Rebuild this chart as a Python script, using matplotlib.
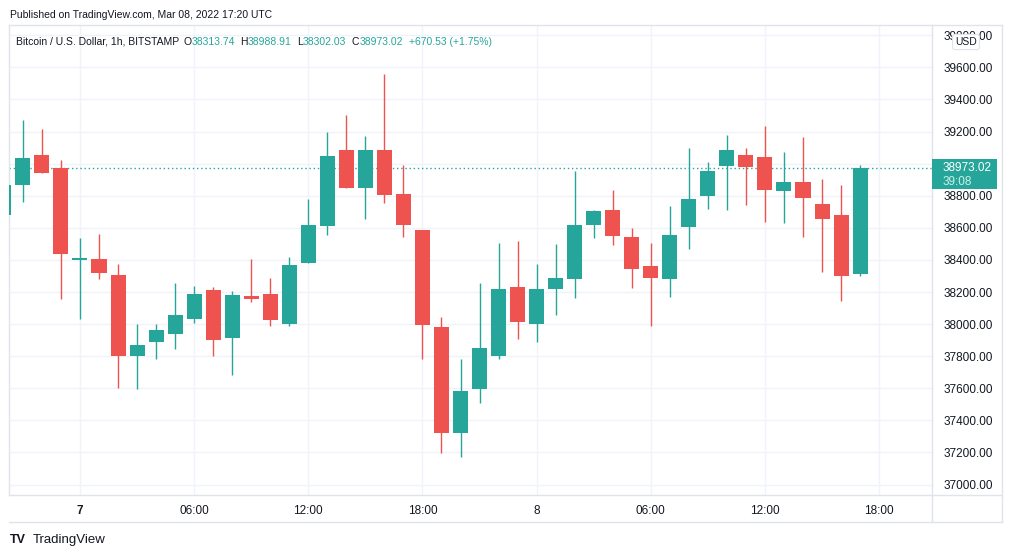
import matplotlib
matplotlib.use("Agg")
import matplotlib.pyplot as plt
from matplotlib.lines import Line2D
from matplotlib.patches import Rectangle
from matplotlib.transforms import blended_transform_factory
import numpy as np

# hours relative to Mar 7 00:00 UTC, one candle per hour
hours = list(range(-4, 42))
opens = [38680, 38867, 39054, 38975, 38400, 38406, 38306, 37804, 37891, 37941,
         38034, 38213, 37916, 38175, 38188, 38001, 38383, 38614, 39085, 38850,
         39085, 38811, 38587, 37984, 37324, 37598, 37804, 38231, 38003, 38219,
         38283, 38620, 38711, 38544, 38363, 38278, 38608, 38801, 38988, 39055,
         39042, 38832, 38886, 38749, 38681, 38313.74]
highs = [38900, 39272, 39216, 39023, 38535, 38562, 38375, 38001, 38001, 38258,
         38238, 38229, 38209, 38406, 38290, 38418, 38780, 39197, 39303, 39172,
         39558, 38991, 38587, 38045, 37783, 38258, 38506, 38518, 38375, 38499,
         38954, 38711, 38836, 38600, 38506, 38737, 39100, 39011, 39179, 39098,
         39235, 39073, 39163, 38905, 38868, 38988.91]
lows = [38650, 38763, 38942, 38155, 38030, 38283, 37604, 37598, 37785, 37847,
        38009, 37804, 37681, 38136, 37990, 37990, 38380, 38557, 38850, 38655,
        38757, 38545, 37785, 37199, 37174, 37511, 37785, 37909, 37891, 38059,
        38165, 38539, 38495, 38228, 37991, 38166, 38471, 38720, 38708, 38743,
        38639, 38631, 38544, 38326, 38141, 38302.03]
closes = [38867, 39035, 38942, 38439, 38410, 38321, 37804, 37870, 37963, 38057,
          38188, 37903, 38182, 38159, 38028, 38368, 38618, 39048, 38850, 39085,
          38807, 38620, 37995, 37324, 37583, 37851, 38219, 38015, 38219, 38287,
          38618, 38705, 38551, 38346, 38290, 38556, 38780, 38955, 39086, 38976,
          38837, 38886, 38783, 38652, 38297, 38973.02]

time_ticks = [0, 6, 12, 18, 24, 30, 36, 42]
time_labels = ["7", "06:00", "12:00", "18:00", "8", "06:00", "12:00", "18:00"]
price_ticks = list(range(37000, 39801, 200))

UP = "#26a69a"
DOWN = "#ef5350"
GRID = "#f0f3fa"
BORDER = "#e0e3eb"
TEXT = "#131722"
FONT = "Liberation Sans"

plt.rcParams["font.family"] = [FONT, "DejaVu Sans"]

W, H = 1012, 558
fig = plt.figure(figsize=(W / 100, H / 100), dpi=100)
fig.patch.set_facecolor("white")

# plot area in pixels: x 9..932, y 25..495
ax = fig.add_axes([9 / W, 1 - 495 / H, 923 / W, 470 / H])
ax.set_xlim(-3.73, 44.78)
ax.set_ylim(36935, 39864)

o = np.array(opens)
c = np.array(closes)
colors = [UP if cc >= oo else DOWN for oo, cc in zip(o, c)]

ax.vlines(hours, lows, highs, colors=colors, linewidth=1.0, zorder=3)
bottoms = np.minimum(o, c)
heights = np.maximum(np.abs(c - o), 6)
ax.bar(hours, heights, bottom=bottoms, width=0.79, color=colors, zorder=4,
       linewidth=0)

last = closes[-1]
ax.axhline(last, color=UP, linestyle=(0, (1, 2)), linewidth=1.0, zorder=2)

ax.set_xticks(time_ticks)
ax.set_xticklabels(time_labels)
ax.set_yticks(price_ticks)
ax.set_yticklabels([f"{p:.2f}" for p in price_ticks])
ax.yaxis.tick_right()
ax.tick_params(axis="y", length=0, pad=8, labelsize=8.5, labelcolor=TEXT)
ax.tick_params(axis="x", length=0, pad=7, labelsize=8.5, labelcolor=TEXT)
ax.get_xticklabels()[0].set_fontweight("bold")
ax.grid(True, color=GRID, linewidth=1.0, zorder=0)
ax.set_axisbelow(True)
for s in ax.spines.values():
    s.set_color(BORDER)
    s.set_linewidth(1.0)

# frame round the time and price scales
def fig_line(x0, y0, x1, y1):
    fig.add_artist(Line2D([x0 / W, x1 / W], [1 - y0 / H, 1 - y1 / H],
                          color=BORDER, linewidth=1.0))

fig_line(9, 522, 1002, 522)
fig_line(1002, 25, 1002, 522)
fig_line(932, 495, 932, 522)
fig_line(932, 25, 1002, 25)
fig_line(932, 495, 1002, 495)

# last price label
px = (39864 - 36935) / 470.0
tr = blended_transform_factory(ax.transAxes, ax.transData)
ax.add_patch(Rectangle((1.0, last - 21 * px), 65 / 923, 30 * px,
                       transform=tr, facecolor=UP, edgecolor="none",
                       clip_on=False, zorder=10))
ax.text(1 + 11 / 923, last, f"{last:.2f}", transform=tr, color="white",
        fontsize=8.5, va="center", ha="left", zorder=11, clip_on=False)
ax.text(1 + 11 / 923, last - 14 * px, "39:08", transform=tr, color="#cdeeea",
        fontsize=8.5, va="center", ha="left", zorder=11, clip_on=False)

fig.text(966 / W, 1 - 42 / H, "USD", fontsize=7.5, color=TEXT, ha="center",
         va="center",
         bbox=dict(boxstyle="round,pad=0.25", facecolor="white",
                   edgecolor=BORDER, linewidth=0.8))

# header
fig.text(10 / W, 1 - 15 / H, "Published on TradingView.com, Mar 08, 2022 17:20 UTC",
         fontsize=7.5, color=TEXT, va="center", ha="left")

pieces = [("Bitcoin / U.S. Dollar, 1h, BITSTAMP", TEXT, 0),
          ("O", TEXT, 3), ("38313.74", UP, 0),
          ("H", TEXT, 4), ("38988.91", UP, 0),
          ("L", TEXT, 4), ("38302.03", UP, 0),
          ("C", TEXT, 4), ("38973.02", UP, 0),
          ("+670.53 (+1.75%)", UP, 4)]
prev = ax.text(16 / W, 1 - 42 / H, pieces[0][0], transform=fig.transFigure,
               fontsize=7.5, color=pieces[0][1], va="center", ha="left",
               zorder=12)
for txt, col, gap in pieces[1:]:
    prev = ax.annotate(txt, xy=(1, 0), xycoords=prev, xytext=(gap, 0),
                       textcoords="offset points", fontsize=7.5, color=col,
                       va="bottom", ha="left", zorder=12)

# footer
fig.text(10 / W, 1 - 540 / H, "TV", fontsize=9, fontweight="heavy",
         color=TEXT, va="center", ha="left")
fig.text(33 / W, 1 - 540 / H, "TradingView", fontsize=9.5, color=TEXT,
         va="center", ha="left")

fig.savefig("out.png", dpi=100, facecolor="white")
